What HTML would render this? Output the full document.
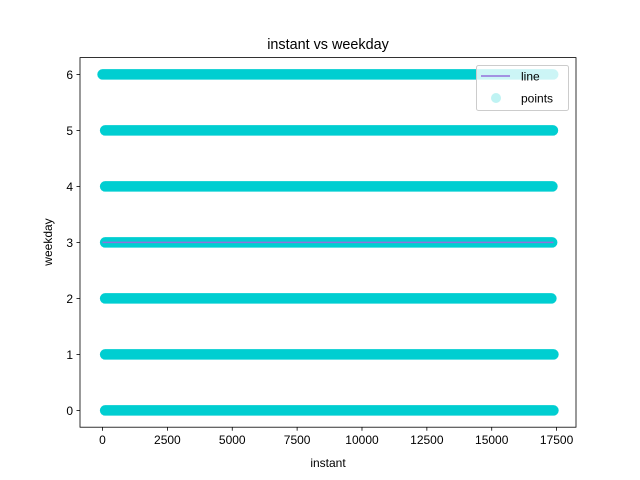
<!DOCTYPE html>
<html><head><meta charset="utf-8"><style>
body{margin:0;background:#fff;}
svg{display:block;font-family:"Liberation Sans","DejaVu Sans",sans-serif;}
</style></head><body>
<svg id="chart" width="640" height="480">
<rect width="640" height="480" fill="#fff"/>
<g id="marks"></g>
<g id="axes"></g>
</svg>
<script>
const weekdays = [0, 1, 2, 3, 4, 5, 6];
const rowStart = [100, 100, 100, 100, 100, 100, 1];
const rowEnd = [17379, 17379, 17300, 17330, 17340, 17360, 17370];
const xTicks = [0, 2500, 5000, 7500, 10000, 12500, 15000, 17500];
const yTicks = [0, 1, 2, 3, 4, 5, 6];
const lineX = [1, 17379];
const lineY = [3.0, 3.0];

const L = 80, R = 576, T = 57.6, B = 427.2;
const xMin = -868, xMax = 18248, yMin = -0.3, yMax = 6.3;
const sx = v => L + (v - xMin) / (xMax - xMin) * (R - L);
const sy = v => B - (v - yMin) / (yMax - yMin) * (B - T);
const NS = 'http://www.w3.org/2000/svg';
function mk(tag, attrs, parent) {
  const e = document.createElementNS(NS, tag);
  for (const k in attrs) e.setAttribute(k, attrs[k]);
  parent.appendChild(e); return e;
}
const marks = document.getElementById('marks');
const axes = document.getElementById('axes');

weekdays.forEach((w, i) => {
  const r = mk('line', {x1: sx(rowStart[i]), x2: sx(rowEnd[i]), y1: sy(w), y2: sy(w), stroke: '#00ced1', 'stroke-width': 10.5, 'stroke-linecap': 'round'}, marks);
  
  
});
const ln = mk('line', {x1: sx(lineX[0]), x2: sx(lineX[1]), y1: sy(lineY[0]), y2: sy(lineY[1]), stroke: '#9370db', 'stroke-width': 1.5}, marks);



const frame = mk('rect', {x: L, y: T, width: R - L, height: B - T, fill: 'none', stroke: '#000', 'stroke-width': 0.8}, axes);



xTicks.forEach(v => {
  const x = sx(v);
  const t = mk('line', {x1: x, x2: x, y1: B, y2: B + 3.5, stroke: '#000', 'stroke-width': 0.8}, axes);
  
  
  const lb = mk('text', {x: x, y: B + 17, 'text-anchor': 'middle', 'font-size': 12, fill: '#000'}, axes);
  lb.textContent = v;
  
  
});
yTicks.forEach(v => {
  const y = sy(v);
  const t = mk('line', {x1: L - 3.5, x2: L, y1: y, y2: y, stroke: '#000', 'stroke-width': 0.8}, axes);
  
  
  const lb = mk('text', {x: L - 7, y: y + 4.5, 'text-anchor': 'end', 'font-size': 12, fill: '#000'}, axes);
  lb.textContent = v;
  
  
});
</script>
<svg width="640" height="480" style="position:absolute;left:0;top:0;font-family:'Liberation Sans','DejaVu Sans',sans-serif;">
<text x="328" y="49" text-anchor="middle" font-size="14.4">instant vs weekday</text>
<text x="328" y="467" text-anchor="middle" font-size="12">instant</text>
<text x="52" y="242" text-anchor="middle" font-size="12" transform="rotate(-90 52 242)">weekday</text>
<g>
<rect x="476.5" y="65.5" width="92" height="45" rx="2" fill="#fff" fill-opacity="0.8" stroke="#ccc"/>
<line x1="481" x2="510" y1="76" y2="76" stroke="#9370db" stroke-width="1.5"/>
<text x="521" y="80.5" font-size="12">line</text>
<circle cx="496" cy="98" r="5" fill="#00ced1" fill-opacity="0.25"/>
<text x="521" y="102.5" font-size="12">points</text>
</g>
</svg>
</body></html>
